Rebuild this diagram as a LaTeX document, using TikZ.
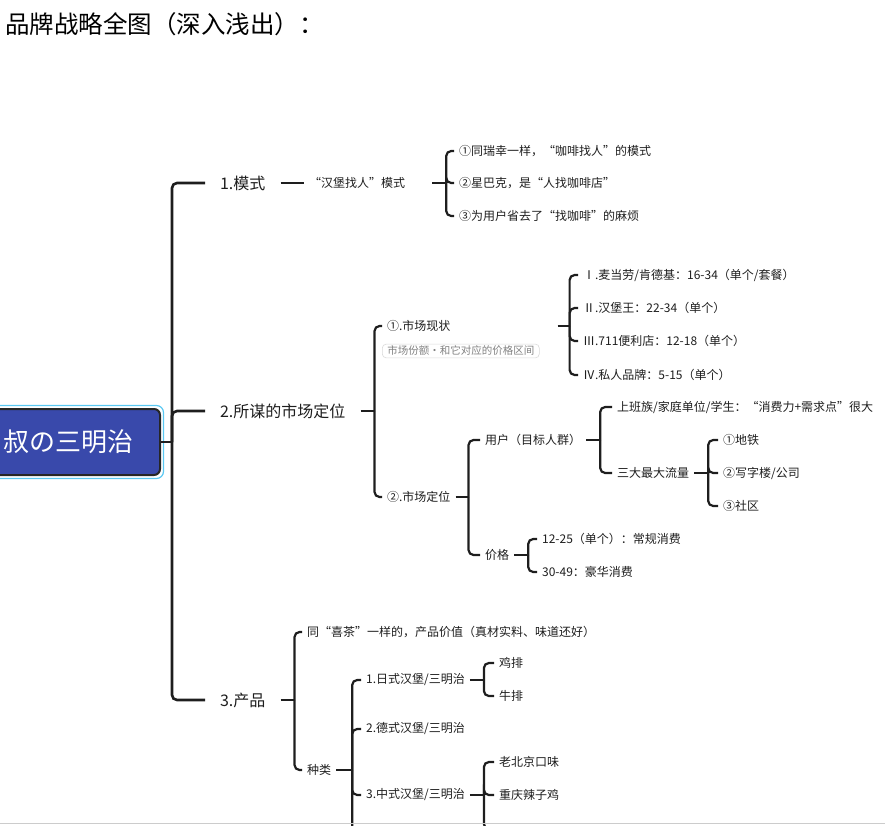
\documentclass[tikz,border=0pt]{standalone}
\usepackage{fontspec}
\setmainfont{Noto Sans CJK SC}
\definecolor{rtblue}{HTML}{3949AB}
\definecolor{selblue}{HTML}{5BC8F2}
\definecolor{ink}{HTML}{1E1E1E}
\begin{document}
\begin{tikzpicture}[x=1pt, y=-1pt, line width=2.2pt, draw=ink, text=ink,
  lf/.style={anchor=west, inner xsep=4pt, inner ysep=2pt, font=\fontsize{12}{14}\selectfont},
  br/.style={anchor=west, inner xsep=14pt, inner ysep=2pt, font=\fontsize{16}{18}\selectfont},
  tag/.style={anchor=west, draw=black!15, line width=0.6pt, rounded corners=4pt, inner xsep=5pt,
    inner ysep=2pt, text=black!50, font=\fontsize{10.5}{12}\selectfont},
  root/.style={anchor=east, fill=rtblue, draw=black!85, line width=2pt, rounded corners=6pt,
    text=white, inner xsep=27pt, minimum height=66pt, font=\fontsize{26}{28}\selectfont},
  lk/.style={rounded corners=5pt}]
  \useasboundingbox (0,0) rectangle (885,826);
  \clip (0,0) rectangle (885,826);
  \node[anchor=west, inner sep=0pt, text=black, font=\fontsize{24.5}{27}\selectfont] (title) at (4,24) {品牌战略全图（深入浅出）：};

  \node[root] (rt) at (161,442) {叔の三明治};
  \draw[selblue, line width=1.2pt, rounded corners=7pt] ([xshift=-2.5pt,yshift=-2.5pt]rt.south west) rectangle ([xshift=2.5pt,yshift=2.5pt]rt.north east);
  \coordinate (tj) at (172,442);

  \node[br] (m1) at (205,183) {1.模式};
  \node[br] (m2) at (205,411) {2.所谋的市场定位};
  \node[br] (m3) at (205,700) {3.产品};
  \draw[line width=2.6pt] (rt.east) -- (tj);
  \foreach \m in {m1,m2,m3}
    \draw[lk, line width=2.6pt] (tj) |- (\m.west);

  \node[lf, text width=118pt, align=left] (hb) at (304,183) {“汉堡找人”模式};
  \draw (m1.east) -- (hb.west);
  \coordinate (hbj) at ([xshift=14pt]hb.east);
  \draw (hb.east) -- (hbj);
  \node[lf] (a1) at (454,151) {①同瑞幸一样，“咖啡找人”的模式};
  \node[lf] (a2) at (454,183) {②星巴克，是“人找咖啡店”};
  \node[lf] (a3) at (454,216) {③为用户省去了“找咖啡”的麻烦};
  \foreach \c in {a1,a2,a3}
    \draw[lk] (hbj) |- (\c.west);

  \coordinate (m2j) at ([xshift=14pt]m2.east);
  \draw (m2.east) -- (m2j);
  \node[lf] (s1) at (382,326) {①.市场现状};
  \node[tag] (st) at (382,351) {市场份额・和它对应的价格区间};
  \node[lf] (s2) at (382,497) {②.市场定位};
  \foreach \c in {s1,s2}
    \draw[lk] (m2j) |- (\c.west);

  \coordinate (s1j) at ([xshift=30pt]st.east |- s1.east);
  \draw ([xshift=18pt]st.east |- s1.east) -- (s1j);
  \node[lf] (p1) at (578,275) {Ⅰ.麦当劳/肯德基：16-34（单个/套餐）};
  \node[lf] (p2) at (578,308) {Ⅱ.汉堡王：22-34（单个）};
  \node[lf] (p3) at (578,341) {Ⅲ.711便利店：12-18（单个）};
  \node[lf] (p4) at (578,375) {Ⅳ.私人品牌：5-15（单个）};
  \foreach \c in {p1,p2,p3,p4}
    \draw[lk] (s1j) |- (\c.west);

  \coordinate (s2j) at ([xshift=13pt]s2.east);
  \draw (s2.east) -- (s2j);
  \node[lf] (u) at (480,440) {用户（目标人群）};
  \node[lf] (jg) at (480,555) {价格};
  \foreach \c in {u,jg}
    \draw[lk] (s2j) |- (\c.west);

  \coordinate (uj) at ([xshift=14pt]u.east);
  \draw (u.east) -- (uj);
  \node[lf] (u1) at (612,407) {上班族/家庭单位/学生：“消费力+需求点”很大};
  \node[lf] (u2) at (612,473) {三大最大流量};
  \foreach \c in {u1,u2}
    \draw[lk] (uj) |- (\c.west);

  \coordinate (u2j) at ([xshift=14pt]u2.east);
  \draw (u2.east) -- (u2j);
  \node[lf] (f1) at (718,440) {①地铁};
  \node[lf] (f2) at (718,473) {②写字楼/公司};
  \node[lf] (f3) at (718,506) {③社区};
  \foreach \c in {f1,f2,f3}
    \draw[lk] (u2j) |- (\c.west);

  \coordinate (jgj) at ([xshift=14pt]jg.east);
  \draw (jg.east) -- (jgj);
  \node[lf] (j1) at (537,539) {12-25（单个）：常规消费};
  \node[lf] (j2) at (537,572) {30-49：豪华消费};
  \foreach \c in {j1,j2}
    \draw[lk] (jgj) |- (\c.west);

  \coordinate (m3j) at ([xshift=14pt]m3.east);
  \draw (m3.east) -- (m3j);
  \node[lf] (c1) at (302,632) {同“喜茶”一样的，产品价值（真材实料、味道还好）};
  \node[lf] (c2) at (302,770) {种类};
  \foreach \c in {c1,c2}
    \draw[lk] (m3j) |- (\c.west);

  \coordinate (c2j) at ([xshift=16pt]c2.east);
  \draw (c2.east) -- (c2j);
  \node[lf] (k1) at (361,680) {1.日式汉堡/三明治};
  \node[lf] (k2) at (361,729) {2.德式汉堡/三明治};
  \node[lf] (k3) at (361,795) {3.中式汉堡/三明治};
  \coordinate (k4) at (361,860);
  \foreach \c in {k1,k2,k3}
    \draw[lk] (c2j) |- (\c.west);
  \draw[lk] (c2j) |- (k4);

  \coordinate (k1j) at ([xshift=14pt]k1.east);
  \draw (k1.east) -- (k1j);
  \node[lf] (k11) at (494,663) {鸡排};
  \node[lf] (k12) at (494,696) {牛排};
  \foreach \c in {k11,k12}
    \draw[lk] (k1j) |- (\c.west);

  \coordinate (k3j) at ([xshift=14pt]k3.east);
  \draw (k3.east) -- (k3j);
  \node[lf] (k31) at (494,762) {老北京口味};
  \node[lf] (k32) at (494,795) {重庆辣子鸡};
  \coordinate (k33) at (494,829);
  \foreach \c in {k31,k32}
    \draw[lk] (k3j) |- (\c.west);
  \draw[lk] (k3j) |- (k33);

  \draw[black!20, line width=1pt] (0,823) -- (885,823);
\end{tikzpicture}
\end{document}
